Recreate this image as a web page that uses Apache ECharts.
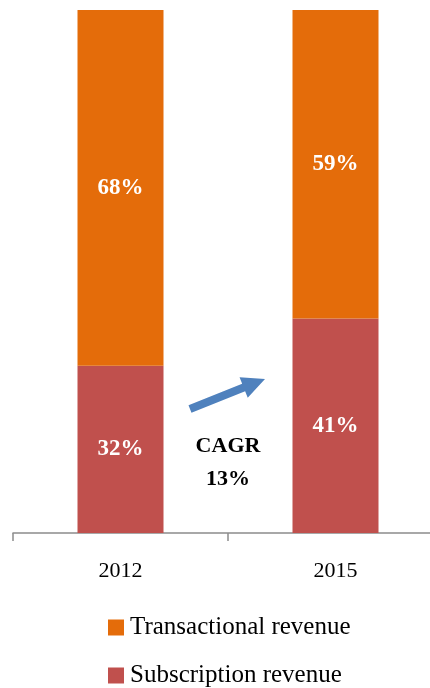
<!DOCTYPE html>
<html>
<head>
<meta charset="utf-8">
<style>
  html, body { margin: 0; padding: 0; background: #fff; }
  #chart { width: 430px; height: 688px; }
</style>
<script src="https://cdn.jsdelivr.net/npm/echarts@6/dist/echarts.min.js"></script>
</head>
<body>
<div id="chart"></div>
<script>
// Revenue mix by year (share of total, %)
const years = ['2012', '2015'];
const subscription = [32, 41];
const transactional = [68, 59];
const cagrLabel = ['CAGR', '13%'];

const FONT = '"Liberation Serif", "DejaVu Serif", serif';
const ORANGE = '#E46C0A';
const RED = '#C0504D';
const BLUE = '#4F81BD';

const chart = echarts.init(document.getElementById('chart'), null, { renderer: 'canvas' });

const barLabel = {
  show: true,
  position: 'inside',
  color: '#fff',
  fontFamily: FONT,
  fontWeight: 'bold',
  fontSize: 23,
  formatter: p => p.value + '%'
};

// Growth arrow between the two bars
function arrowPoints(tail, tip, halfShaft, halfHead, headLen) {
  const dx = tip[0] - tail[0], dy = tip[1] - tail[1];
  const len = Math.hypot(dx, dy);
  const ux = dx / len, uy = dy / len;
  const nx = -uy, ny = ux;
  const bx = tip[0] - ux * headLen, by = tip[1] - uy * headLen;
  return [
    [tail[0] + nx * halfShaft, tail[1] + ny * halfShaft],
    [bx + nx * halfShaft, by + ny * halfShaft],
    [bx + nx * halfHead, by + ny * halfHead],
    tip,
    [bx - nx * halfHead, by - ny * halfHead],
    [bx - nx * halfShaft, by - ny * halfShaft],
    [tail[0] - nx * halfShaft, tail[1] - ny * halfShaft]
  ];
}

const legendBase = {
  left: 103,
  itemWidth: 16,
  itemHeight: 16,
  icon: 'rect',
  textStyle: { fontFamily: FONT, fontSize: 25, color: '#000', padding: [0, 0, 0, 1] }
};

chart.setOption({
  animation: false,
  backgroundColor: '#fff',
  grid: { left: 13, width: 430, top: 10, bottom: 155, outerBoundsMode: 'none', containLabel: false },
  legend: [
    Object.assign({}, legendBase, { top: 610, data: ['Transactional revenue'] }),
    Object.assign({}, legendBase, { top: 658, data: ['Subscription revenue'] })
  ],
  xAxis: {
    type: 'category',
    data: years,
    axisLine: { lineStyle: { color: '#8c8c8c', width: 1.5 } },
    axisTick: { show: true, length: 8, lineStyle: { color: '#8c8c8c', width: 1.5 } },
    axisLabel: { fontFamily: FONT, fontSize: 22, color: '#000', margin: 27 }
  },
  yAxis: {
    type: 'value',
    min: 0,
    max: 100,
    show: false,
    splitLine: { show: false }
  },
  series: [
    {
      name: 'Subscription revenue',
      type: 'bar',
      stack: 'mix',
      barWidth: 86,
      data: subscription,
      itemStyle: { color: RED },
      label: barLabel
    },
    {
      name: 'Transactional revenue',
      type: 'bar',
      stack: 'mix',
      barWidth: 86,
      data: transactional,
      itemStyle: { color: ORANGE },
      label: barLabel
    }
  ],
  graphic: [
    {
      type: 'polygon',
      shape: { points: arrowPoints([190, 409], [265, 379], 4, 11, 23) },
      style: { fill: BLUE }
    },
    {
      type: 'text',
      x: 228,
      y: 446,
      style: {
        text: cagrLabel[0],
        fontFamily: FONT, fontWeight: 'bold', fontSize: 22, fill: '#000',
        align: 'center', verticalAlign: 'middle'
      }
    },
    {
      type: 'text',
      x: 228,
      y: 479,
      style: {
        text: cagrLabel[1],
        fontFamily: FONT, fontWeight: 'bold', fontSize: 22, fill: '#000',
        align: 'center', verticalAlign: 'middle'
      }
    }
  ]
});
</script>
</body>
</html>
